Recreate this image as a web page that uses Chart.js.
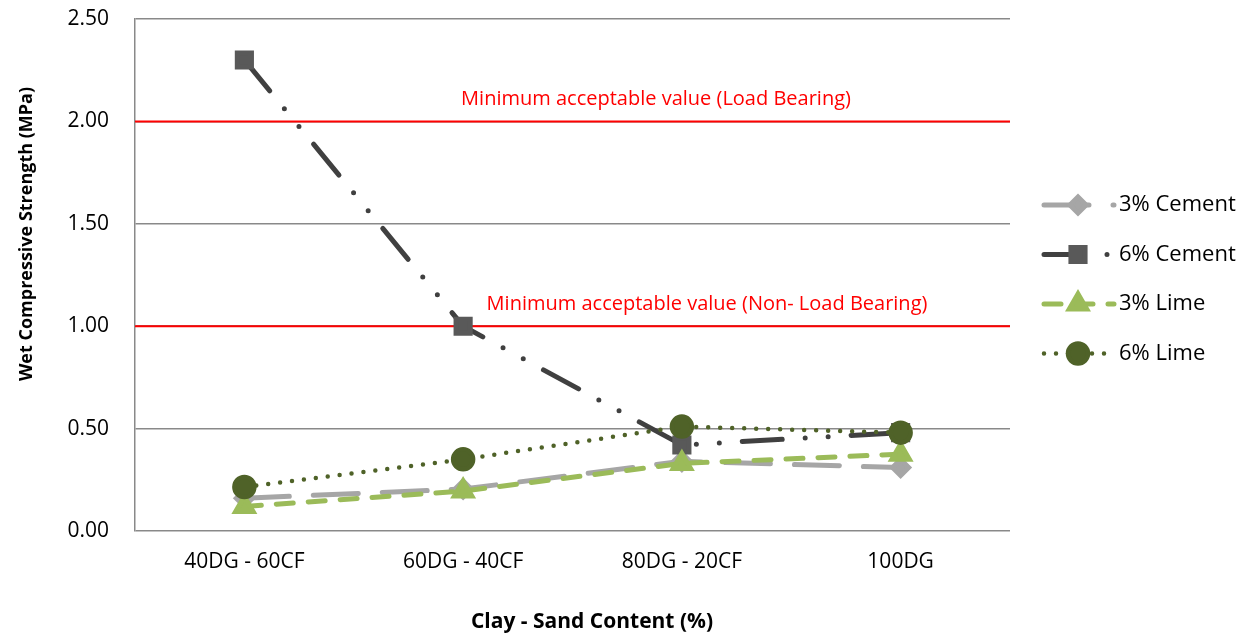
<!DOCTYPE html>
<html>
<head>
<meta charset="utf-8">
<script src="https://cdn.jsdelivr.net/npm/chart.js@4"></script>
<style>
  html, body { margin: 0; padding: 0; background: #fff; }
  #wrap { width: 1259px; height: 637px; }
</style>
</head>
<body>
<div id="wrap"><canvas id="chart"></canvas></div>
<script>
const categories = ['40DG - 60CF', '60DG - 40CF', '80DG - 20CF', '100DG'];
const cement3 = [0.16, 0.205, 0.34, 0.31];
const cement6 = [2.30, 1.00, 0.42, 0.48];
const lime3 = [0.12, 0.195, 0.33, 0.375];
const lime6 = [0.215, 0.35, 0.51, 0.48];
const limits = [2.0, 1.0];
const limitLabels = ['Minimum acceptable value (Load Bearing)', 'Minimum acceptable value (Non- Load Bearing)'];
const limitLabelX = [656, 707];
const xTitle = 'Clay - Sand Content (%)';
const yTitle = 'Wet Compressive Strength (MPa)';

const font = "'Open Sans', sans-serif";

// red threshold lines + their labels
const limitLines = {
  id: 'limitLines',
  beforeDatasetsDraw(chart) {
    const ctx = chart.ctx, y = chart.scales.y, area = chart.chartArea;
    ctx.save();
    limits.forEach((v, i) => {
      const py = y.getPixelForValue(v);
      ctx.strokeStyle = '#FF0000';
      ctx.lineWidth = 2;
      ctx.beginPath();
      ctx.moveTo(area.left, py);
      ctx.lineTo(area.right, py);
      ctx.stroke();
      ctx.fillStyle = '#FF0000';
      ctx.font = '20px ' + font;
      ctx.textAlign = 'center';
      ctx.textBaseline = 'middle';
      ctx.fillText(limitLabels[i], limitLabelX[i], py - 22);
    });
    ctx.restore();
  }
};

// axis titles placed where the original has them
const axisTitles = {
  id: 'axisTitles',
  afterDraw(chart) {
    const ctx = chart.ctx;
    ctx.save();
    ctx.fillStyle = '#000';
    ctx.textAlign = 'center';
    ctx.textBaseline = 'middle';
    ctx.font = 'bold 21px ' + font;
    ctx.fillText(xTitle, 592, 622);
    ctx.translate(27, 234);
    ctx.rotate(-Math.PI / 2);
    ctx.font = 'bold 18px ' + font;
    ctx.fillText(yTitle, 0, 0);
    ctx.restore();
  }
};

// legend with dashed line + marker, like the original
const sideLegend = {
  id: 'sideLegend',
  afterDraw(chart) {
    const ctx = chart.ctx;
    chart.data.datasets.forEach((ds, i) => {
      const y = 205 + i * 49.5;
      ctx.save();
      ctx.strokeStyle = ds.borderColor;
      ctx.lineWidth = ds.borderWidth;
      ctx.lineCap = ds.borderCapStyle || 'butt';
      ctx.setLineDash(ds.borderDash || []);
      ctx.beginPath();
      ctx.moveTo(1044, y);
      ctx.lineTo(1114, y);
      ctx.stroke();
      ctx.setLineDash([]);
      ctx.fillStyle = ds.pointBackgroundColor;
      ctx.strokeStyle = ds.pointBorderColor;
      Chart.helpers.drawPoint(ctx, {
        pointStyle: ds.pointStyle, radius: ds.pointRadius, rotation: 0, borderWidth: 1
      }, 1078, y);
      ctx.fillStyle = '#000';
      ctx.font = '22px ' + font;
      ctx.textAlign = 'left';
      ctx.textBaseline = 'middle';
      ctx.fillText(ds.label, 1119, y);
      ctx.restore();
    });
  }
};

new Chart(document.getElementById('chart'), {
  type: 'line',
  data: {
    labels: categories,
    datasets: [
      {
        label: '3% Cement',
        data: cement3,
        borderColor: '#A6A6A6',
        borderWidth: 5,
        borderDash: [45, 24],
        borderCapStyle: 'round',
        pointStyle: 'rectRot',
        pointRadius: 8,
        pointBackgroundColor: '#A6A6A6',
        pointBorderColor: '#A6A6A6',
        order: 3
      },
      {
        label: '6% Cement',
        data: cement6,
        borderColor: '#404040',
        borderWidth: 5,
        borderDash: [40, 23, 0, 23, 0, 23],
        borderCapStyle: 'round',
        pointStyle: 'rect',
        pointRadius: 10,
        pointBackgroundColor: '#595959',
        pointBorderColor: '#595959',
        order: 2
      },
      {
        label: '3% Lime',
        data: lime3,
        borderColor: '#9BBB59',
        borderWidth: 5,
        borderDash: [17, 15],
        borderCapStyle: 'round',
        pointStyle: 'triangle',
        pointRadius: 10,
        pointBackgroundColor: '#9BBB59',
        pointBorderColor: '#9BBB59',
        order: 1
      },
      {
        label: '6% Lime',
        data: lime6,
        borderColor: '#4F6228',
        borderWidth: 4.5,
        borderDash: [0, 12],
        borderCapStyle: 'round',
        pointStyle: 'circle',
        pointRadius: 10,
        pointBackgroundColor: '#4F6228',
        pointBorderColor: '#4F6228',
        order: 0
      }
    ]
  },
  options: {
    responsive: true,
    maintainAspectRatio: false,
    animation: false,
    layout: { padding: { top: 19, right: 249, bottom: 0, left: 0 } },
    plugins: {
      legend: { display: false },
      tooltip: { enabled: false }
    },
    scales: {
      x: {
        offset: true,
        grid: { display: false, drawTicks: false },
        border: { display: false },
        ticks: { color: '#000', font: { family: font, size: 21 }, padding: 18 },
        afterFit(scale) { scale.height = 106; }
      },
      y: {
        min: 0,
        max: 2.5,
        ticks: {
          stepSize: 0.5,
          color: '#000',
          font: { family: font, size: 21 },
          padding: 26,
          callback: v => v.toFixed(2)
        },
        grid: { color: '#898989', lineWidth: 1.5, drawTicks: false },
        border: { color: '#898989', width: 1.5 },
        afterFit(scale) {
          scale.width = 135;
          scale.paddingTop = 0;
          scale.paddingBottom = 0;
        }
      }
    }
  },
  plugins: [limitLines, axisTitles, sideLegend]
});
</script>
</body>
</html>
